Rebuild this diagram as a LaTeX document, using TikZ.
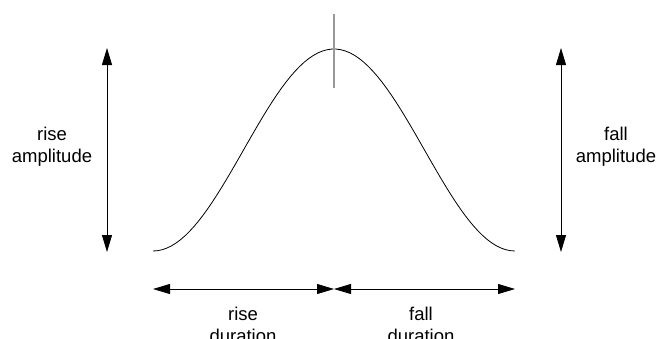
\documentclass[tikz,border=0pt]{standalone}
\usepackage{fontspec}
\setmainfont{Liberation Sans}
\usetikzlibrary{arrows.meta,positioning}

\begin{document}
\begin{tikzpicture}[
  x=1pt, y=-1pt,
  >={Triangle[length=17pt, width=10pt]},
  dim/.style={<->, line width=0.8pt},
  lbl/.style={font=\fontsize{18.5}{22}\selectfont, align=center, inner sep=0pt},
]
  \useasboundingbox (0,0) rectangle (657,338);

  % ---------------- pulse
  \coordinate (start) at (153,251);
  \coordinate (peak) at (334,49);
  \coordinate (stop) at (515,251);
  \draw[line width=0.8pt] plot[domain=0:1, samples=80] ({153+362*\x}, {251-202*(1-cos(360*\x))/2});
  \coordinate (marktop) at (334,14);
  \coordinate (markbot) at (334,88);
  \draw[line width=1.3pt, gray!80] (marktop) -- (markbot);

  % ---------------- amplitudes
  \coordinate (lt) at (107,48);
  \coordinate (lb) at (107,252);
  \coordinate (rt) at (561,48);
  \coordinate (rb) at (561,252);
  \draw[dim] (lt) -- (lb);
  \draw[dim] (rt) -- (rb);
  \node[lbl] (riseamp) at (52,147) {rise\\amplitude};
  \node[lbl] (fallamp) at (616,147) {fall\\amplitude};

  % ---------------- durations
  \coordinate (dl) at (153,289);
  \coordinate (dm) at (334,289);
  \coordinate (dr) at (515,289);
  \draw[dim] (dl) -- (dm);
  \draw[dim] (dm) -- (dr);
  \node[lbl] (risedur) at (243,325) {rise\\duration};
  \node[lbl] (falldur) at (421,325) {fall\\duration};
\end{tikzpicture}
\end{document}
